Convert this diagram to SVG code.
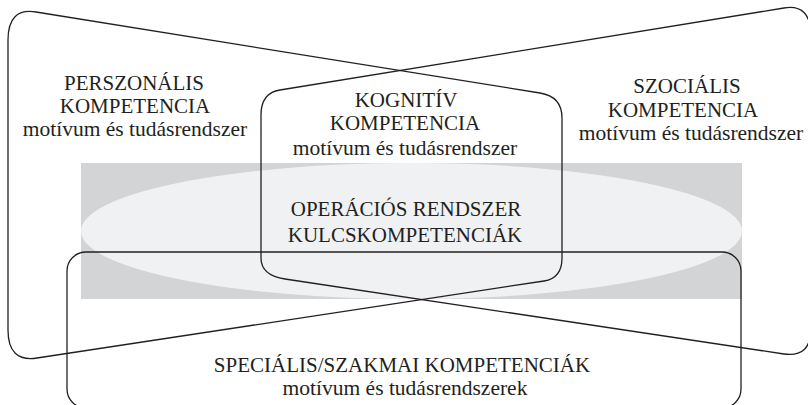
<svg xmlns="http://www.w3.org/2000/svg" width="808" height="405" viewBox="0 0 808 405">
<style>
.ln{fill:none;stroke:#231f20;stroke-width:1.3;stroke-linejoin:round}
.t{font-family:"Liberation Serif","Times New Roman",serif;fill:#231f20;text-anchor:middle}
.c{font-size:21px}
.l{font-size:21.5px}
</style>
<rect width="808" height="405" fill="#ffffff"/>
<g id="operacios">
<rect x="81" y="163" width="661" height="136" fill="#d3d4d6"/>
<ellipse cx="411.5" cy="231" rx="330.5" ry="68" fill="#f0f1f3"/>
<text class="t c" x="406" y="216">OPERÁCIÓS RENDSZER</text>
<text class="t c" x="405" y="242">KULCSKOMPETENCIÁK</text>
</g>
<g id="specialis">
<rect class="ln" x="67" y="252" width="674" height="156" rx="19"/>
<text class="t c" x="402" y="372">SPECIÁLIS/SZAKMAI KOMPETENCIÁK</text>
<text class="t l" x="405" y="395">motívum és tudásrendszerek</text>
</g>
<g id="perszonalis">
<path class="ln" d="M36,12 L540,93 Q562,96.5 562,118 L562,258 Q562,278.3 544,281 L37,358 Q8,362.4 8,330 L8,40 Q8,7.5 36,12 Z"/>
<text class="t c" x="134" y="90">PERSZONÁLIS</text>
<text class="t c" x="135" y="113">KOMPETENCIA</text>
<text class="t l" x="135" y="136">motívum és tudásrendszer</text>
</g>
<g id="szocialis">
<path class="ln" d="M784,8 L280,90 Q261,93 261,115 L261,258 Q261,275.4 285,279 L784,354 Q811,358 811,328 L811,36 Q811,3.6 784,8 Z"/>
<text class="t c" x="687" y="93">SZOCIÁLIS</text>
<text class="t c" x="683" y="117">KOMPETENCIA</text>
<text class="t l" x="691" y="140">motívum és tudásrendszer</text>
</g>
<g id="kognitiv">
<text class="t c" x="406" y="107">KOGNITÍV</text>
<text class="t c" x="405" y="130">KOMPETENCIA</text>
<text class="t l" x="405" y="155">motívum és tudásrendszer</text>
</g>
</svg>
